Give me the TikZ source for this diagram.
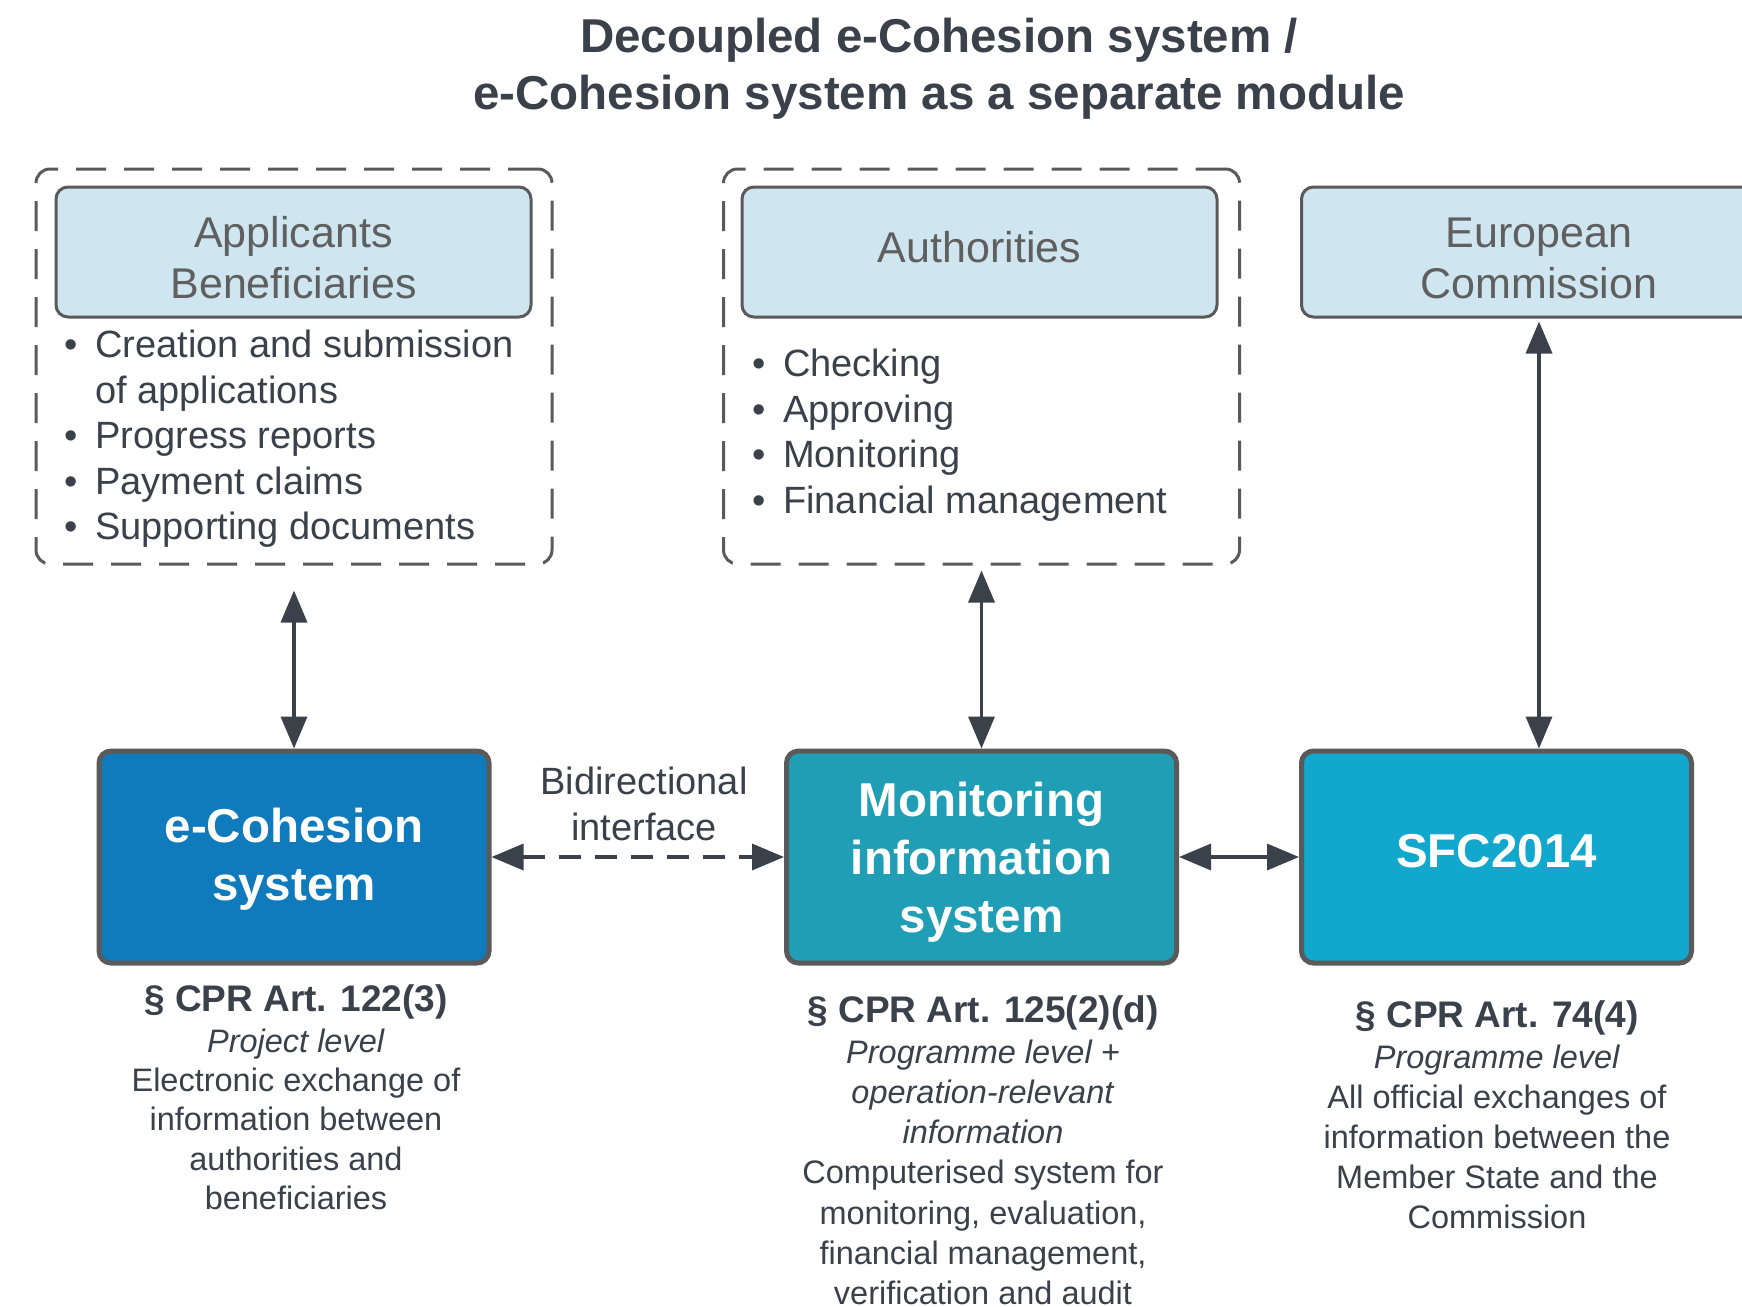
\documentclass[tikz,border=0pt]{standalone}
\usepackage{fontspec}
\setmainfont{Liberation Sans}
\usetikzlibrary{arrows.meta}
\definecolor{txt}{HTML}{3A414A}
\definecolor{lblue}{HTML}{CFE5EF}
\definecolor{lbtxt}{HTML}{5F5F5F}
\definecolor{bord}{HTML}{5A5A5A}
\definecolor{ecohc}{HTML}{0F7BBD}
\definecolor{monc}{HTML}{209EB5}
\definecolor{sfcc}{HTML}{12A7CC}
\newcommand\bul{\makebox[31pt][l]{•}}
\newcommand\bulsp{\makebox[31pt][l]{}}
\newcommand\nthead{\fontsize{37}{39}\selectfont\bfseries}
\tikzset{
  actor/.style={draw=bord, line width=3pt, fill=lblue, rounded corners=12pt,
    inner sep=0, minimum width=475pt, minimum height=130pt},
  actortext/.style={text=lbtxt, align=center, font=\fontsize{43}{51}\selectfont, inner sep=0},
  sysbox/.style={draw=bord, line width=5pt, rounded corners=12pt, text=white, align=center,
    font=\fontsize{47.5}{58}\selectfont\bfseries, inner sep=0,
    minimum width=390pt, minimum height=212pt},
  groupbox/.style={draw=bord, line width=3pt, dash pattern=on 30pt off 18pt, rounded corners=14pt,
    inner sep=0, minimum width=516pt, minimum height=395pt},
  bullets/.style={text=txt, align=left, anchor=north west, inner sep=0,
    font=\fontsize{38}{45.5}\selectfont},
  note/.style={text=txt, align=center, anchor=north, inner sep=0,
    font=\fontsize{32.5}{39.3}\selectfont},
  link/.style={draw=txt, line width=3.5pt,
    {Triangle[length=32pt,width=26pt]}-{Triangle[length=32pt,width=26pt]}},
  dlink/.style={link, dash pattern=on 22pt off 14pt}
}
\begin{document}
\begin{tikzpicture}[x=1pt,y=-1pt]
\clip (0,0) rectangle (1742,1306);
\fill[white] (0,0) rectangle (1742,1306);

% title
\node[text=txt, align=center, anchor=north, inner sep=0,
  font=\fontsize{47.5}{57}\selectfont\bfseries] (title) at (939,18)
  {Decoupled e-Cohesion system /\\e-Cohesion system as a separate module};

% groups
\node[groupbox] (grp1) at (294,366.5) {};
\node[groupbox] (grp2) at (981.5,366.5) {};

% actors
\node[actor] (appl) at (293.5,252) {};
\node[actor] (auth) at (979.5,252) {};
\node[actor] (ec) at (1539,252) {};
\node[actortext] (appltxt) at (293.5,258) {Applicants\\Beneficiaries};
\node[actortext] (authtxt) at (979.5,247) {Authorities};
\node[actortext] (ectxt) at (1539,258) {European\\Commission};

% bullet lists
\node[bullets] (list1) at (64,330) {\bul Creation and submission\\\bulsp of applications\\\bul Progress reports\\\bul Payment claims\\\bul Supporting documents};
\node[bullets] (list2) at (752,349) {\bul Checking\\\bul Approving\\\bul Monitoring\\\bul Financial management};

% systems
\node[sysbox, fill=ecohc] (ecoh) at (294,857) {\rule{0pt}{39pt}e-Cohesion\\system};
\node[sysbox, fill=monc] (mon) at (981.5,857) {\rule{0pt}{44pt}Monitoring\\information\\system};
\node[sysbox, fill=sfcc, text depth=12pt] (sfc) at (1496.5,857) {SFC2014};

% connectors
\draw[link, shorten <=25pt] (grp1.south) -- (ecoh.north);
\draw[link, shorten <=5pt] (grp2.south) -- (mon.north);
\draw[link, shorten <=3pt] (ec.south) -- (ec.south |- sfc.north);
\draw[dlink] (ecoh.east) -- (mon.west);
\draw[link] (mon.east) -- (sfc.west);

\node[text=txt, align=center, inner sep=0, font=\fontsize{38}{46}\selectfont] (bidi) at (644,804) {Bidirectional\\interface};

% notes
\node[note] (note1) at (296,984) {{\nthead § CPR Art. 122(3)}\\[2pt]\textit{Project level}\\Electronic exchange of\\information between\\authorities and\\beneficiaries};
\node[note, font=\fontsize{32.5}{40.2}\selectfont] (note2) at (983,995) {{\nthead § CPR Art. 125(2)(d)}\\[1pt]\textit{Programme level +}\\\textit{operation-relevant}\\\textit{information}\\Computerised system for\\monitoring, evaluation,\\financial management,\\verification and audit};
\node[note, font=\fontsize{32.5}{40}\selectfont] (note3) at (1497,1000) {{\nthead § CPR Art. 74(4)}\\[1pt]\textit{Programme level}\\All official exchanges of\\information between the\\Member State and the\\Commission};
\end{tikzpicture}
\end{document}
